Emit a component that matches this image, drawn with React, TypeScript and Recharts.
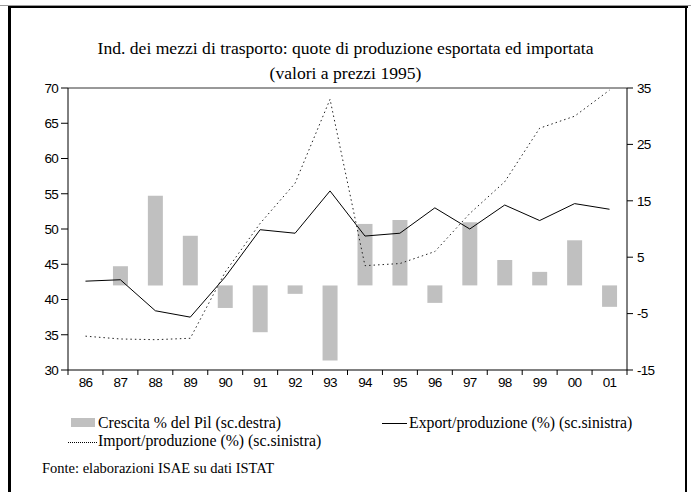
import { ComposedChart, Bar, Line, XAxis, YAxis, ReferenceLine } from 'recharts';

const years = ['86', '87', '88', '89', '90', '91', '92', '93', '94', '95', '96', '97', '98', '99', '00', '01'];
const exportShare = [42.6, 42.8, 38.4, 37.5, 43.2, 49.9, 49.4, 55.4, 49.0, 49.4, 53.0, 50.0, 53.4, 51.2, 53.6, 52.8];
const importShare = [34.8, 34.4, 34.3, 34.5, 43.9, 50.8, 56.5, 68.4, 44.8, 45.1, 46.8, 52.2, 56.7, 64.3, 66.0, 69.7];
const gdpGrowth = [null, 3.4, 15.9, 8.8, -4.0, -8.3, -1.5, -13.3, 10.9, 11.6, -3.1, 11.2, 4.5, 2.4, 8.0, -3.8];
const leftTicks = [30, 35, 40, 45, 50, 55, 60, 65, 70];
const rightTicks = [-15, -5, 5, 15, 25, 35];

const data = years.map((year, i) => ({
    year,
    export: exportShare[i],
    import: importShare[i],
    gdp: gdpGrowth[i],
}));

const sans = '"Liberation Sans", Arial, sans-serif';
const serif = '"Liberation Serif", "Times New Roman", serif';

// category ticks: label in the middle, tick mark on the band boundary
const YearTick = (props: any) => {
    const { x, y, payload, index } = props;
    const off = payload?.offset ?? 0;
    return (
        <g>
            <line x1={x - off} y1={y} x2={x - off} y2={y + 5} stroke="#000" />
            {index === years.length - 1 && <line x1={x + off} y1={y} x2={x + off} y2={y + 5} stroke="#000" />}
            <text x={x} y={y + 17} textAnchor="middle" fontSize={13.5} fontFamily={sans} letterSpacing={-0.7} fill="#000">
                {payload.value}
            </text>
        </g>
    );
};

const App = () => {
    return (
        <div style={{ position: 'absolute', left: 0, top: 0, width: 691, height: 492, overflow: 'hidden', background: '#fff' }}>
            <div style={{ position: 'absolute', left: 0, width: 691, top: 36, textAlign: 'center', fontFamily: serif, fontSize: 17.6, lineHeight: '25px', color: '#000' }}>
                Ind. dei mezzi di trasporto: quote di produzione esportata ed importata<br />
                (valori a prezzi 1995)
            </div>
            <div style={{ position: 'absolute', left: 0, top: 0 }}>
                <ComposedChart width={691} height={492} data={data} margin={{ top: 88, right: 14, bottom: 92, left: 18 }}>
                    <XAxis
                        dataKey="year"
                        xAxisId="x"
                        tick={<YearTick />}
                        tickLine={false}
                        tickSize={0}
                        tickMargin={0}
                        height={30}
                        axisLine={{ stroke: '#000' }}
                        interval={0}
                    />
                    <YAxis
                        yAxisId="left"
                        domain={[30, 70]}
                        ticks={leftTicks}
                        width={50}
                        tickSize={7}
                        tickMargin={3}
                        axisLine={{ stroke: '#000' }}
                        tickLine={{ stroke: '#000' }}
                        tick={{ fontSize: 13.5, fontFamily: sans, fill: '#000', letterSpacing: -0.7 }}
                    />
                    <YAxis
                        yAxisId="right"
                        orientation="right"
                        domain={[-15, 35]}
                        ticks={rightTicks}
                        width={50}
                        tickSize={6}
                        tickMargin={4}
                        axisLine={{ stroke: '#000' }}
                        tickLine={{ stroke: '#000' }}
                        tick={{ fontSize: 13.5, fontFamily: sans, fill: '#000', letterSpacing: -0.7 }}
                    />
                    <ReferenceLine yAxisId="left" xAxisId="x" y={70} stroke="#333" />
                    <Bar dataKey="gdp" yAxisId="right" xAxisId="x" fill="#c0c0c0" barSize={15} isAnimationActive={false} />
                    <Line dataKey="export" yAxisId="left" xAxisId="x" stroke="#000" strokeWidth={1} dot={false} isAnimationActive={false} />
                    <Line dataKey="import" yAxisId="left" xAxisId="x" stroke="#222" strokeWidth={1} strokeDasharray="1.5 3" dot={false} isAnimationActive={false} />
                </ComposedChart>
            </div>
            <div style={{ position: 'absolute', left: 0, top: 0, fontFamily: serif, fontSize: 15.8, lineHeight: '18px', color: '#000' }}>
                <div style={{ position: 'absolute', left: 71, top: 418, width: 24, height: 9, background: '#c0c0c0' }} />
                <div style={{ position: 'absolute', left: 98, top: 414, whiteSpace: 'nowrap' }}>Crescita % del Pil (sc.destra)</div>
                <div style={{ position: 'absolute', left: 382, top: 423, width: 25, height: 1, background: '#000' }} />
                <div style={{ position: 'absolute', left: 409, top: 414, whiteSpace: 'nowrap' }}>Export/produzione (%) (sc.sinistra)</div>
                <div style={{ position: 'absolute', left: 68, top: 442, width: 29, borderTop: '1px dotted #000' }} />
                <div style={{ position: 'absolute', left: 98, top: 432, whiteSpace: 'nowrap' }}>Import/produzione (%) (sc.sinistra)</div>
                <div style={{ position: 'absolute', left: 42, top: 460, whiteSpace: 'nowrap', fontSize: 14.5, lineHeight: '16px' }}>Fonte: elaborazioni ISAE su dati ISTAT</div>
            </div>
            {/* frame */}
            <div style={{ position: 'absolute', left: 8, top: 6, width: 680, height: 2, background: '#000' }} />
            <div style={{ position: 'absolute', left: 0, top: 5, width: 691, height: 1, background: '#999' }} />
            <div style={{ position: 'absolute', left: 8, top: 6, width: 3, height: 486, background: '#000' }} />
            <div style={{ position: 'absolute', left: 685, top: 6, width: 2, height: 486, background: '#000' }} />
        </div>
    );
};

export default App;
